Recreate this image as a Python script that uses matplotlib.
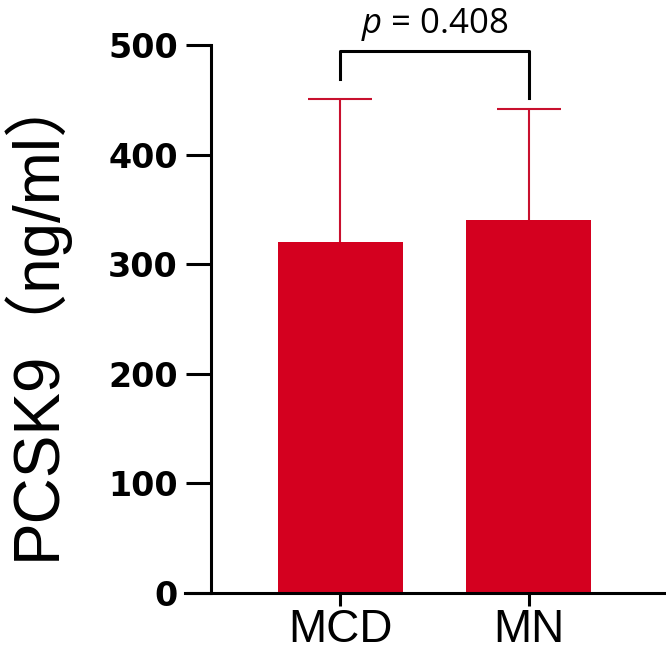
import numpy as np
import matplotlib
matplotlib.use('Agg')
from matplotlib import pyplot as plt

groups = ['MCD', 'MN']
means = [320, 340]
sd = [131, 102]
yticks = [0, 100, 200, 300, 400, 500]
p_text = '0.408'

plt.rcParams['mathtext.fontset'] = 'custom'
plt.rcParams['mathtext.it'] = 'Open Sans:italic'
plt.rcParams['mathtext.rm'] = 'Open Sans'

fig = plt.figure(figsize=(6.66, 6.61), dpi=100)
ax = fig.add_axes([0.278, 0.103, 0.722, 0.829])

x = np.arange(len(groups))
bar_red = '#d4001f'
ax.bar(x, means, width=0.665, color=bar_red, zorder=2)
eb = ax.errorbar(x, means, yerr=[np.zeros(len(sd)), sd], fmt='none', ecolor='#c8102e',
                 elinewidth=1.5, capsize=23, capthick=1.5, zorder=3)
# only the upper cap, like prism
eb[1][0].set_visible(False)

ax.set_xlim(-0.824, 1.73)
ax.set_ylim(0, 500)

# prism style: y axis sits inside, x axis runs past it
ax.spines['left'].set_position(('data', -0.686))
ax.spines['left'].set_bounds(0, 500)
for s in ['left', 'bottom']:
    ax.spines[s].set_linewidth(2.2)
ax.spines['top'].set_visible(False)
ax.spines['right'].set_visible(False)

ax.set_yticks(yticks)
ax.set_yticklabels([str(v) for v in yticks], fontsize=24, fontweight='bold',
                   family='DejaVu Sans')
ax.tick_params(axis='y', length=18, width=2.2, pad=6)
ax.set_xticks(x)
ax.set_xticklabels(groups, fontsize=33, family='Liberation Sans')
ax.tick_params(axis='x', length=9, width=2.2, pad=2)

ax.set_ylabel('PCSK9（ng/ml）', fontsize=46, family=['Liberation Sans', 'Noto Sans CJK SC'])
ax.yaxis.set_label_coords(-0.245, 0.51)

# significance bracket
ax.plot([0, 0, 1, 1], [469, 494.5, 494.5, 451.6], color='black', lw=2.2,
        clip_on=False, zorder=4)
ax.text(0.5, 511, '$\\it{p}$ = ' + p_text, ha='center', va='baseline', fontsize=25,
        family='Open Sans', clip_on=False)

plt.savefig('out.png', dpi=100)
